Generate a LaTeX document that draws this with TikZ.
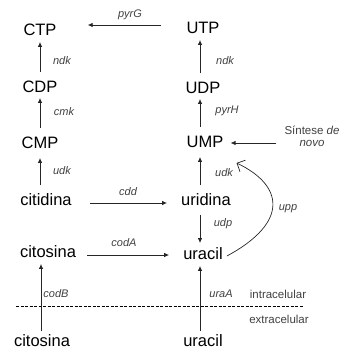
\documentclass[tikz,border=0pt]{standalone}
\usepackage{fontspec}
\setmainfont{Liberation Sans}
\usetikzlibrary{arrows.meta,calc}
\tikzset{
  mol/.style={inner sep=0pt, text height=11.5pt, text depth=0pt, font=\fontsize{16.5}{19}\selectfont},
  enz/.style={inner sep=0pt, text=black!75, font=\fontsize{11}{13}\selectfont\itshape},
  reg/.style={inner sep=0pt, text=black!75, font=\fontsize{11.5}{13}\selectfont},
  arr/.style={draw=black!85, line width=0.8pt, -{Latex[length=5pt,width=4.5pt]}},
  barb/.style={draw=black!85, line width=0.7pt, -{Straight Barb[length=7pt,angle=90:9pt]}},
}
\begin{document}
\begin{tikzpicture}[x=1pt,y=-1pt]
\useasboundingbox (0,0) rectangle (340,350);
% molecules
\node[mol] (CTP) at (40,30) {CTP};
\node[mol] (CDP) at (40,87) {CDP};
\node[mol] (CMP) at (40,143) {CMP};
\node[mol] (cit) at (46,200) {citidina};
\node[mol] (cis) at (48,252) {citosina};
\node[mol] (cisx) at (42,341) {citosina};
\node[mol] (UTP) at (203,28) {UTP};
\node[mol] (UDP) at (203,88) {UDP};
\node[mol] (UMP) at (205,142) {UMP};
\node[mol] (uri) at (206,200) {uridina};
\node[mol] (ura) at (203,254) {uracil};
\node[mol] (urax) at (203,341) {uracil};
\node[reg, align=center] (sint) at (312,136) {Síntese \textit{de}\\[-1pt]\textit{novo}};
% enzymes
\node[enz] (pyrG) at (130,15) {pyrG};
\node[enz] (ndkL) at (62,61) {ndk};
\node[enz] (cmk) at (64,112) {cmk};
\node[enz] (udkL) at (62,171) {udk};
\node[enz] (cdd) at (128,192) {cdd};
\node[enz] (codA) at (124,243) {codA};
\node[enz] (codB) at (56,294) {codB};
\node[enz] (ndkR) at (225,61) {ndk};
\node[enz] (pyrH) at (227,111) {pyrH};
\node[enz] (udkR) at (224,173) {udk};
\node[enz] (udp) at (223,224) {udp};
\node[enz] (upp) at (288,209) {upp};
\node[enz] (uraA) at (221,294) {uraA};
\node[reg] (intra) at (278,294) {intracelular};
\node[reg] (extra) at (279,319) {extracelular};
% membrane
\coordinate (mL) at (16,306);
\coordinate (mR) at (303,306);
\draw[dashed, line width=0.6pt, dash pattern=on 3pt off 1.5pt] (mL) -- (mR);
% arrows left column
\draw[arr, shorten <=9pt, shorten >=6pt] (CDP.north) -- (CTP.south);
\draw[arr, shorten <=9pt, shorten >=5pt] (CMP.north) -- (CDP.south);
\draw[arr, shorten <=9pt, shorten >=9pt] ([xshift=-6pt]cit.north) -- ([xshift=-6pt]cit.north |- CMP.south);
\draw[arr, shorten <=4pt, shorten >=6pt] ([xshift=-1pt]cisx.north) -- ([xshift=-1pt]cisx.north |- cis.south);
% arrows right column
\draw[arr, shorten <=9pt, shorten >=6pt] ([xshift=-3pt]UDP.north) -- ([xshift=-3pt]UTP.south);
\draw[arr, shorten <=9pt, shorten >=5pt] ([xshift=-3pt]UMP.north -| UDP.north) -- ([xshift=-3pt]UDP.south);
\draw[arr, shorten <=9pt, shorten >=9pt] ([xshift=-6pt]uri.north) -- ([xshift=-6pt]uri.north |- UMP.south);
\draw[arr, shorten <=9pt, shorten >=5pt] ([xshift=-6pt]uri.south) -- ([xshift=-6pt]uri.south |- ura.north);
\draw[arr, shorten <=4pt, shorten >=6pt] ([xshift=-3pt]urax.north) -- ([xshift=-3pt]urax.north |- ura.south);
% horizontal
\draw[arr] ([xshift=-25pt,yshift=3pt]UTP.west) -- ([xshift=31pt,yshift=3pt]UTP.west -| CTP.east);
\draw[arr] ([xshift=18pt,yshift=-3pt]cit.east) -- ([xshift=-14pt,yshift=-3pt]cit.east -| uri.west);
\draw[arr] ([xshift=11pt,yshift=-3pt]cis.east) -- ([xshift=-14pt,yshift=-3pt]cis.east -| ura.west);
\draw[arr] ([xshift=-8pt,yshift=-1pt]sint.west |- UMP.east) -- ([xshift=7pt,yshift=-1pt]UMP.east);
% upp
\draw[barb] ([xshift=4pt,yshift=-2pt]ura.east) .. controls (290,222) and (283,185) .. ([xshift=13pt,yshift=-21pt]UMP.east);
\end{tikzpicture}
\end{document}
